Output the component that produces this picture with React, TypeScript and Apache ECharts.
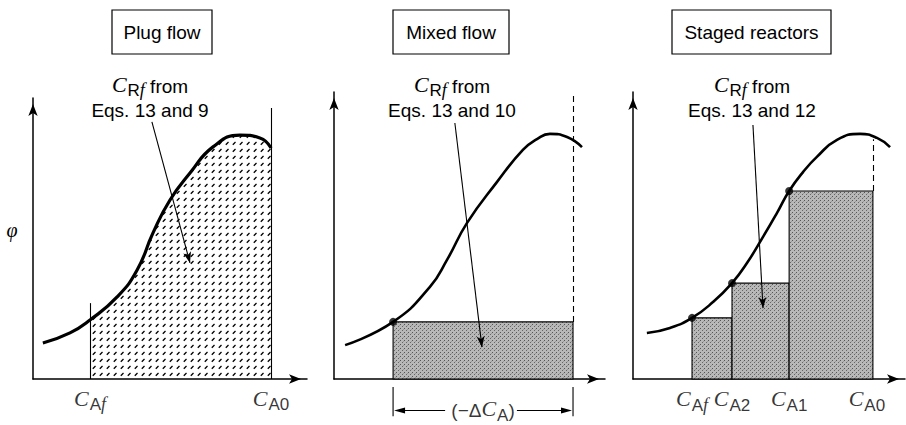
import React, { useEffect, useRef } from 'react';
import * as echarts from 'echarts';

// ---------- data (axis units 0..10 in each panel) ----------
const plugCurve = [
  [0.36, 1.28], [1.35, 1.64], [2.08, 2.1], [3.07, 2.92], [3.8, 3.88], [4.38, 5.2],
  [5.0, 6.37], [5.73, 7.33], [6.57, 8.26], [7.55, 8.68], [8.28, 8.58], [8.69, 8.22],
];
const plugCAf = 2.08;
const plugCA0 = 8.69;
const plugCAfTop = 2.7;
const plugCA0Top = 9.64;
const plugArrow = [[4.34, 9.15], [5.73, 4.13]];

const mixedCurve = [
  [0.41, 1.18], [2.18, 1.99], [3.54, 3.21], [4.17, 4.15], [4.91, 5.44],
  [6.01, 6.86], [6.97, 7.98], [7.49, 8.36], [7.97, 8.54], [8.6, 8.43], [9.15, 8.08],
];
const mixedCAf = 2.18;
const mixedCA0 = 8.82;
const mixedPhi = 1.99;
const mixedArrow = [[4.46, 8.92], [5.46, 1.11]];
// [from x, to x, line y, gap start, gap end, extension top, extension bottom]
const mixedDim = [[2.18, 8.82, -1.1, 4.1, 6.75, -0.28, -1.3]];
const mixedDimLabelX = 5.5;

const stagedCurve = [
  [0.51, 1.6], [1.36, 1.78], [2.17, 2.13], [2.94, 2.68], [3.64, 3.34], [4.19, 4.04],
  [4.78, 4.95], [5.29, 5.78], [5.74, 6.55], [6.25, 7.21], [6.76, 7.74], [7.5, 8.33],
  [8.35, 8.54], [8.97, 8.4], [9.45, 8.08],
];
const stageEdges = [2.17, 3.64, 5.74, 8.82];
const stageHeights = [2.13, 3.34, 6.55];
const stagedDashTop = 8.35;
const stagedArrow = [[4.41, 8.85], [4.78, 2.47]];

const tickY = -0.75;
const plugTicks = [[plugCAf, 'Af'], [plugCA0, 'A0']];
const stagedTicks = [[2.17, 'Af'], [3.64, 'A2'], [5.74, 'A1'], [8.6, 'A0']];

const titles = ['Plug flow', 'Mixed flow', 'Staged reactors'];
const equations = ['Eqs. 13 and 9', 'Eqs. 13 and 10', 'Eqs. 13 and 12'];

// ---------- styles ----------
const hatchSvg =
  "<svg xmlns='http://www.w3.org/2000/svg' width='7' height='7'><line x1='1.8' y1='4.7' x2='4.5' y2='2.0' stroke='black' stroke-width='1.3'/></svg>";
const stippleSvg =
  "<svg xmlns='http://www.w3.org/2000/svg' width='4' height='4'><rect width='4' height='4' fill='#b8b8b8'/><rect x='0' y='0' width='1' height='1' fill='#555'/><rect x='2' y='2' width='1' height='1' fill='#666'/><rect x='3' y='1' width='1' height='1' fill='#999'/></svg>";
const svgUrl = (s: string) => 'data:image/svg+xml;charset=utf-8,' + encodeURIComponent(s);
const hatch: any = { image: svgUrl(hatchSvg), repeat: 'repeat', imageWidth: 7, imageHeight: 7 };
const stipple: any = { image: svgUrl(stippleSvg), repeat: 'repeat', imageWidth: 4, imageHeight: 4 };

const SANS = 'Liberation Sans, Arial, sans-serif';
const SERIF = 'Liberation Serif, Times New Roman, serif';

const rich: any = {
  c: { fontFamily: SERIF, fontStyle: 'italic', fontSize: 22, color: '#000', padding: [0, 1, 4, 0] },
  a: { fontFamily: SANS, fontSize: 17, color: '#000', verticalAlign: 'bottom' },
  f: { fontFamily: SERIF, fontStyle: 'italic', fontSize: 18, color: '#000', verticalAlign: 'bottom' },
  t: { fontFamily: SANS, fontSize: 19, color: '#000' },
};

const subLabel = (sub: string) =>
  '{c|C}{a|' + sub[0] + '}' + (sub[1] === 'f' ? '{f|f}' : '{a|' + sub[1] + '}');

const grids = [
  { left: 33, top: 98, width: 274, height: 281 },
  { left: 334, top: 92, width: 271, height: 287 },
  { left: 633, top: 92, width: 272, height: 287 },
];

const axisBase = (i: number) => ({
  type: 'value',
  gridIndex: i,
  min: 0,
  max: 10,
  axisLine: {
    show: true,
    onZero: false,
    symbol: ['none', 'arrow'],
    symbolSize: [7, 12],
    symbolOffset: [0, -6],
    lineStyle: { color: '#000', width: 1.5 },
  },
  axisTick: { show: false },
  axisLabel: { show: false },
  splitLine: { show: false },
});

const seg = (p: number[], q: number[], endSymbol = 'none', extra: any = {}) => [
  { coord: p, symbol: 'none' },
  { coord: q, symbol: endSymbol, symbolSize: [6, 11], ...extra },
];

const markLine = (data: any[]) => ({
  silent: true,
  animation: false,
  symbol: ['none', 'none'],
  label: { show: false },
  emphasis: { disabled: true },
  lineStyle: { color: '#000', width: 1.1, type: 'solid' },
  data,
});

const SMOOTH = 0.5;

const curveSeries = (i: number, data: number[][], width: number, ml: any[]) => ({
  type: 'line',
  xAxisIndex: i,
  yAxisIndex: i,
  data,
  smooth: SMOOTH,
  symbol: 'none',
  clip: false,
  silent: true,
  z: 5,
  lineStyle: { color: '#000', width },
  markLine: markLine(ml),
});

const labelSeries = (i: number, data: any[], formatter: (s: string) => string) => ({
  type: 'scatter',
  xAxisIndex: i,
  yAxisIndex: i,
  data,
  symbolSize: 1,
  clip: false,
  silent: true,
  itemStyle: { color: 'rgba(0,0,0,0)' },
  label: {
    show: true,
    position: 'inside',
    formatter: (p: any) => formatter(p.data[2]),
    rich,
  },
});

const dotSeries = (i: number, data: number[][]) => ({
  type: 'scatter',
  xAxisIndex: i,
  yAxisIndex: i,
  data,
  symbolSize: 8,
  silent: true,
  z: 6,
  itemStyle: { color: '#000' },
});

const rectSeries = (i: number, data: number[][]) => ({
  type: 'custom',
  xAxisIndex: i,
  yAxisIndex: i,
  data,
  silent: true,
  z: 2,
  encode: { x: [0, 1], y: 2 },
  renderItem: (params: any, api: any) => {
    const p0 = api.coord([api.value(0), api.value(2)]);
    const p1 = api.coord([api.value(1), 0]);
    return {
      type: 'rect',
      shape: { x: p0[0], y: p0[1], width: p1[0] - p0[0], height: p1[1] - p0[1] },
      style: { fill: stipple, stroke: '#000', lineWidth: 1.1 },
    };
  },
});

const dimensionSeries = (i: number, data: number[][]) => ({
  type: 'custom',
  xAxisIndex: i,
  yAxisIndex: i,
  data,
  silent: true,
  clip: false,
  z: 4,
  encode: { x: [0, 1], y: 2 },
  renderItem: (params: any, api: any) => {
    const x0 = api.value(0), x1 = api.value(1), y = api.value(2);
    const g0 = api.value(3), g1 = api.value(4), et = api.value(5), eb = api.value(6);
    const a = api.coord([x0, y]);
    const b = api.coord([x1, y]);
    const ga = api.coord([g0, y]);
    const gb = api.coord([g1, y]);
    const e0t = api.coord([x0, et]);
    const e0b = api.coord([x0, eb]);
    const e1t = api.coord([x1, et]);
    const e1b = api.coord([x1, eb]);
    const ls = { stroke: '#000', lineWidth: 1.1 };
    const head = (tip: number[], dir: number) => ({
      type: 'polygon',
      shape: { points: [tip, [tip[0] + dir * 11, tip[1] - 3], [tip[0] + dir * 11, tip[1] + 3]] },
      style: { fill: '#000' },
    });
    return {
      type: 'group',
      children: [
        { type: 'line', shape: { x1: e0t[0], y1: e0t[1], x2: e0b[0], y2: e0b[1] }, style: ls },
        { type: 'line', shape: { x1: e1t[0], y1: e1t[1], x2: e1b[0], y2: e1b[1] }, style: ls },
        { type: 'line', shape: { x1: ga[0], y1: ga[1], x2: a[0] + 3, y2: a[1] }, style: ls },
        { type: 'line', shape: { x1: gb[0], y1: gb[1], x2: b[0] - 3, y2: b[1] }, style: ls },
        head([a[0] + 1, a[1]], 1),
        head([b[0] - 1, b[1]], -1),
      ],
    };
  },
});

function buildOption() {
  const dashed = { lineStyle: { type: [6, 4], width: 1.1, color: '#000' } };
  const series: any[] = [
    // Plug flow
    {
      type: 'line',
      xAxisIndex: 0,
      yAxisIndex: 0,
      data: plugCurve.filter((p) => p[0] >= plugCAf && p[0] <= plugCA0),
      smooth: SMOOTH,
      symbol: 'none',
      silent: true,
      z: 1,
      lineStyle: { width: 0 },
      areaStyle: { color: hatch, opacity: 1 },
    },
    curveSeries(0, plugCurve, 3.2, [
      seg([plugCAf, 0], [plugCAf, plugCAfTop]),
      seg([plugCA0, 0], [plugCA0, plugCA0Top]),
      seg(plugArrow[0], plugArrow[1], 'arrow'),
    ]),
    labelSeries(0, plugTicks.map((t) => [t[0], tickY, t[1]]), subLabel),

    // Mixed flow
    rectSeries(1, [[mixedCAf, mixedCA0, mixedPhi]]),
    curveSeries(1, mixedCurve, 2.6, [
      [{ coord: [mixedCA0, mixedPhi], symbol: 'none', ...dashed }, { coord: [mixedCA0, 10], symbol: 'none' }],
      seg(mixedArrow[0], mixedArrow[1], 'arrow'),
    ]),
    dimensionSeries(1, mixedDim),
    dotSeries(1, [[mixedCAf, mixedPhi]]),
    labelSeries(1, [[mixedDimLabelX, mixedDim[0][2], 'A']], () => '{t|(−Δ}{c|C}{a|A}{t|)}'),

    // Staged reactors
    rectSeries(
      2,
      stageHeights.map((h, k) => [stageEdges[k], stageEdges[k + 1], h])
    ),
    curveSeries(2, stagedCurve, 2.6, [
      [
        { coord: [stageEdges[3], stageHeights[2]], symbol: 'none', ...dashed },
        { coord: [stageEdges[3], stagedDashTop], symbol: 'none' },
      ],
      seg(stagedArrow[0], stagedArrow[1], 'arrow'),
    ]),
    dotSeries(2, stageHeights.map((h, k) => [stageEdges[k], h])),
    labelSeries(2, stagedTicks.map((t) => [t[0], tickY, t[1]]), subLabel),
  ];

  const titleBoxes = [
    { x: 112, w: 100 },
    { x: 393, w: 116 },
    { x: 672, w: 159 },
  ];
  const noteX = [150, 452, 752];

  const graphic: any[] = [];
  titles.forEach((t, k) => {
    const b = titleBoxes[k];
    graphic.push({
      type: 'rect',
      shape: { x: b.x, y: 10, width: b.w, height: 44 },
      style: { fill: '#fff', stroke: '#000', lineWidth: 1.2 },
      silent: true,
    });
    graphic.push({
      type: 'text',
      x: b.x + b.w / 2,
      y: 32,
      style: { text: t, fontFamily: SANS, fontSize: 19, fill: '#000', align: 'center', verticalAlign: 'middle' },
      silent: true,
    });
    graphic.push({
      type: 'text',
      x: noteX[k],
      y: 86,
      style: {
        text: '{c|C}{a|R}{f|f}{t| from}',
        rich,
        align: 'center',
        verticalAlign: 'middle',
      },
      silent: true,
    });
    graphic.push({
      type: 'text',
      x: noteX[k],
      y: 110,
      style: { text: equations[k], fontFamily: SANS, fontSize: 19, fill: '#000', align: 'center', verticalAlign: 'middle' },
      silent: true,
    });
  });
  graphic.push({
    type: 'text',
    x: 12,
    y: 230,
    style: { text: 'φ', fontFamily: SERIF, fontStyle: 'italic', fontSize: 20, fill: '#000', align: 'center', verticalAlign: 'middle' },
    silent: true,
  });

  return {
    animation: false,
    backgroundColor: '#fff',
    grid: grids,
    xAxis: [0, 1, 2].map(axisBase),
    yAxis: [0, 1, 2].map(axisBase),
    series,
    graphic,
  };
}

export default function App() {
  const ref = useRef<HTMLDivElement>(null);
  useEffect(() => {
    const chart = echarts.init(ref.current as HTMLDivElement, null, { renderer: 'svg', width: 906, height: 425 });
    chart.setOption(buildOption() as any);
    return () => chart.dispose();
  }, []);
  return (
    <div
      ref={ref}
      style={{ position: 'fixed', left: 0, top: 0, width: 906, height: 425, background: '#fff' }}
    />
  );
}
